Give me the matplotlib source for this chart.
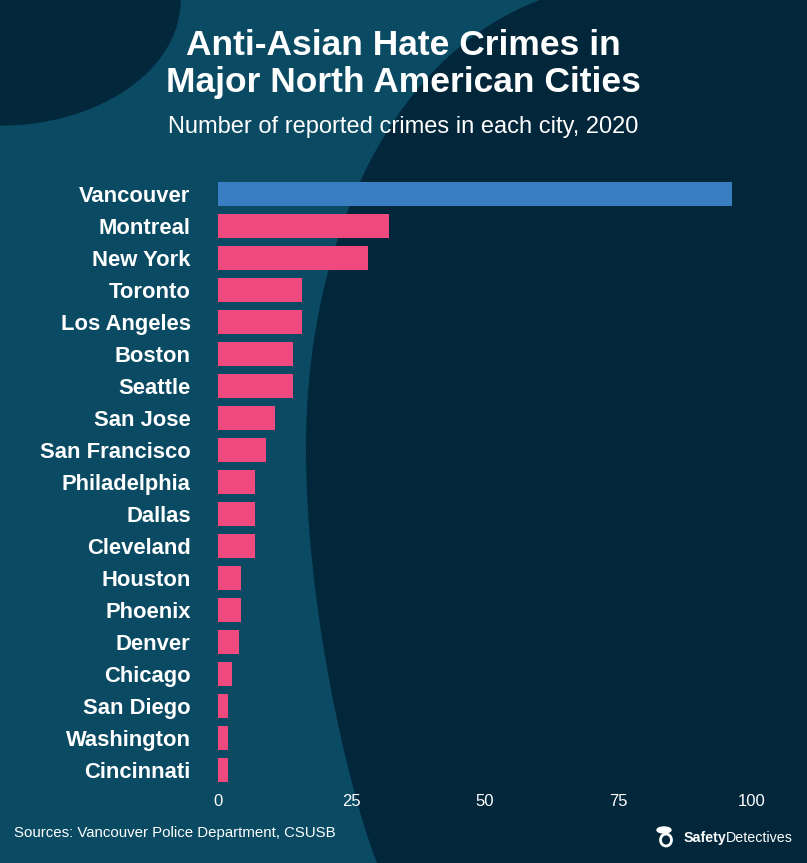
import matplotlib.pyplot as plt
import numpy as np
from matplotlib.path import Path
from matplotlib.patches import PathPatch, Ellipse, Rectangle

cities = ['Vancouver', 'Montreal', 'New York', 'Toronto', 'Los Angeles', 'Boston',
          'Seattle', 'San Jose', 'San Francisco', 'Philadelphia', 'Dallas', 'Cleveland',
          'Houston', 'Phoenix', 'Denver', 'Chicago', 'San Diego', 'Washington', 'Cincinnati']
crimes = [96.3, 32, 28, 15.8, 15.8, 14, 14, 10.6, 9, 7, 7, 7, 4.3, 4.3, 3.9, 2.6, 1.9, 1.9, 1.9]
ticks = [0, 25, 50, 75, 100]

W, H = 807, 863
DARK = '#02263a'
TEAL = '#0a4a63'
PINK = '#ee4a80'
BLUE = '#3a7ec2'

plt.rcParams['font.family'] = ['Liberation Sans', 'DejaVu Sans']

fig = plt.figure(figsize=(W / 100, H / 100), dpi=100)
fig.patch.set_facecolor(DARK)

# background shapes (pixel coords, y down)
bg = fig.add_axes([0, 0, 1, 1], zorder=0)
bg.set_xlim(0, W)
bg.set_ylim(H, 0)
bg.axis('off')
bg.add_patch(Rectangle((0, 0), W, H, color=DARK))
verts = [(0, 0), (540, 0),
         (380, 60), (305, 260), (306, 450),
         (306, 600), (345, 780), (377, H),
         (0, H), (0, 0)]
codes = [Path.MOVETO, Path.LINETO,
         Path.CURVE4, Path.CURVE4, Path.CURVE4,
         Path.CURVE4, Path.CURVE4, Path.CURVE4,
         Path.LINETO, Path.CLOSEPOLY]
bg.add_patch(PathPatch(Path(verts, codes), facecolor=TEAL, edgecolor='none'))
bg.add_patch(Ellipse((0, 0), 360, 250, color='#03283b'))

# bar chart
ax = fig.add_axes([218 / W, 1 - 786 / H, (752 - 218) / W, (786 - 178) / H], zorder=1)
ax.patch.set_alpha(0)
y = np.arange(len(cities))
colors = [BLUE] + [PINK] * (len(cities) - 1)
ax.barh(y, crimes, height=0.75, color=colors)
ax.set_ylim(len(cities) - 0.5, -0.5)
ax.set_xlim(0, 100)
ax.set_yticks(y)
ax.set_yticklabels(cities, fontsize=15.8, fontweight='bold', color='white')
ax.set_xticks(ticks)
ax.set_xticklabels([str(t) for t in ticks], fontsize=12, color='white')
ax.tick_params(axis='y', length=0, pad=19.7)
ax.tick_params(axis='x', length=0, pad=6)
for s in ax.spines.values():
    s.set_visible(False)

# titles
fig.text(403 / W, 1 - 55 / H, 'Anti-Asian Hate Crimes in', ha='center', va='baseline',
         fontsize=25.5, fontweight='bold', color='white')
fig.text(403 / W, 1 - 92 / H, 'Major North American Cities', ha='center', va='baseline',
         fontsize=25.5, fontweight='bold', color='white')
fig.text(403 / W, 1 - 133.5 / H, 'Number of reported crimes in each city, 2020', ha='center',
         va='baseline', fontsize=17, color='white')

# footer
fig.text(14 / W, 1 - 833 / H, 'Sources: Vancouver Police Department, CSUSB', ha='left',
         va='center', fontsize=10.8, color='white')
t2 = fig.text(793 / W, 1 - 842 / H, 'Detectives', ha='right', va='baseline', fontsize=10.3,
              color='white')
fig.canvas.draw()
bb = t2.get_window_extent()
fig.text(bb.x0 / W, 1 - 842 / H, 'Safety', ha='right', va='baseline', fontsize=10.3,
         fontweight='bold', color='white')
# small logo mark
bg.add_patch(Ellipse((666, 840), 11, 12, fill=False, ec='white', lw=2))
bg.add_patch(Ellipse((664, 830), 14, 6, color='white'))

fig.savefig('out.png', dpi=100, facecolor=fig.get_facecolor())
